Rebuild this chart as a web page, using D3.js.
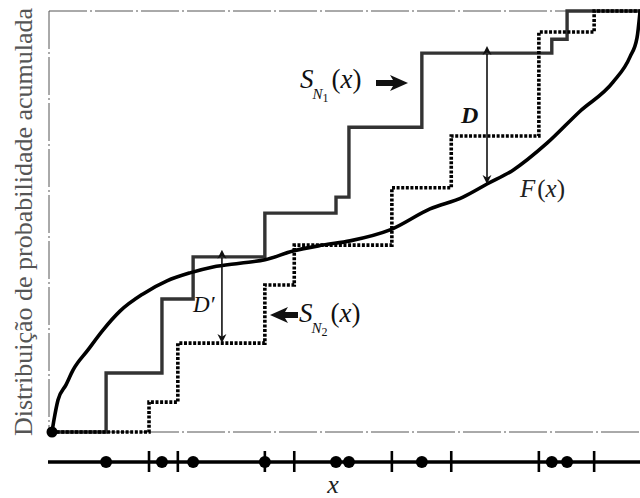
<!DOCTYPE html>
<html>
<head>
<meta charset="utf-8">
<script src="https://cdn.jsdelivr.net/npm/d3@7"></script>
<style>
  body { margin: 0; background: #fff; }
  svg { display: block; }
</style>
</head>
<body>
<script>
// Two samples (positions on the x axis, 0..100) and their empirical CDF levels
const sample1 = [9.2, 18.7, 24.0, 36.2, 48.3, 50.5, 62.9, 85.0, 87.6];
const ecdf1   = [0.140, 0.316, 0.416, 0.520, 0.558, 0.724, 0.900, 0.933, 1.0];
const sample2 = [16.5, 21.4, 36.2, 41.2, 57.8, 67.9, 82.8, 92.2];
const ecdf2   = [0.071, 0.211, 0.349, 0.444, 0.580, 0.703, 0.950, 1.0];

// Theoretical cumulative distribution F(x)
const cdfX = [0, 0.34, 1.02, 2.38, 3.57, 6.12, 8.67, 11.56, 15.48, 19.56, 23.47, 27.38,
              31.97, 36.22, 40.99, 46.09, 50.68, 57.48, 64.29, 69.90, 73.98, 78.40,
              84.18, 89.80, 95.41, 98.30, 99.49, 100];
const cdfY = [0, 0.029, 0.076, 0.112, 0.147, 0.195, 0.242, 0.287, 0.328, 0.359, 0.378, 0.392,
              0.401, 0.409, 0.430, 0.444, 0.454, 0.480, 0.530, 0.558, 0.589, 0.622,
              0.686, 0.762, 0.831, 0.891, 0.936, 0.998];

// Where the distances D and D' are measured
const dAt = 73.98;
const dPrimeAt = 28.9;

const W = 640, H = 498;
const svg = d3.select("body").append("svg").attr("width", W).attr("height", H);

const x = d3.scaleLinear().domain([0, 100]).range([52, 640]);
const y = d3.scaleLinear().domain([0, 1]).range([432, 11]);

const serif = "'Liberation Serif', 'DejaVu Serif', serif";

// empirical CDF value at a point
function ecdfAt(xs, levels, v) {
  let r = 0;
  xs.forEach((s, i) => { if (s <= v) r = levels[i]; });
  return r;
}
const cdfAt = v => {
  const i = d3.bisectRight(cdfX, v) - 1;
  if (i >= cdfX.length - 1) return cdfY[cdfY.length - 1];
  const t = (v - cdfX[i]) / (cdfX[i + 1] - cdfX[i]);
  return cdfY[i] + t * (cdfY[i + 1] - cdfY[i]);
};

// frame: thin dash-dot lines on top, left and bottom
const frame = svg.append("g")
  .attr("stroke", "#555").attr("stroke-width", 1).attr("fill", "none")
  .attr("stroke-dasharray", "38 3 2 3");
frame.append("line").attr("x1", 49).attr("x2", 640).attr("y1", y(1)).attr("y2", y(1));
frame.append("line").attr("x1", 49).attr("x2", 640).attr("y1", y(0)).attr("y2", y(0));
frame.append("line").attr("x1", 49).attr("x2", 49).attr("y1", y(1)).attr("y2", y(0));

// step functions
const step = d3.line().x(d => x(d[0])).y(d => y(d[1])).curve(d3.curveStepAfter);
const pts1 = [[0, 0]].concat(sample1.map((s, i) => [s, ecdf1[i]])).concat([[100, 1]]);
const pts2 = [[0, 0]].concat(sample2.map((s, i) => [s, ecdf2[i]])).concat([[100, 1]]);

svg.append("path").attr("d", step(pts1))
  .attr("fill", "none").attr("stroke", "#333").attr("stroke-width", 3.4)
  .attr("stroke-linejoin", "miter");

svg.append("path").attr("d", step(pts2))
  .attr("fill", "none").attr("stroke", "#000").attr("stroke-width", 3.6)
  .attr("stroke-dasharray", "3 1.6");

// theoretical curve
const curve = d3.line().x((d, i) => x(cdfX[i])).y((d, i) => y(cdfY[i])).curve(d3.curveMonotoneX);
svg.append("path").attr("d", curve(cdfX))
  .attr("fill", "none").attr("stroke", "#000").attr("stroke-width", 3.6)
  .attr("stroke-linecap", "round");
svg.append("circle").attr("cx", x(0)).attr("cy", y(0)).attr("r", 5.5).attr("fill", "#000");

// arrow heads for the distance markers
const defs = svg.append("defs");
["end", "start"].forEach(k => {
  defs.append("marker").attr("id", "head-" + k)
    .attr("viewBox", "0 0 10 10").attr("refX", k === "end" ? 9 : 1).attr("refY", 5)
    .attr("markerUnits", "userSpaceOnUse").attr("markerWidth", 9).attr("markerHeight", 10)
    .attr("orient", "auto-start-reverse")
    .append("path").attr("d", "M0,0 L10,5 L0,10 L3,5 Z").attr("fill", "#111");
});

function distance(xv, top, bottom) {
  svg.append("line")
    .attr("x1", x(xv)).attr("x2", x(xv))
    .attr("y1", y(top) + 1).attr("y2", y(bottom) - 1)
    .attr("stroke", "#111").attr("stroke-width", 1.6)
    .attr("marker-start", "url(#head-start)")
    .attr("marker-end", "url(#head-end)");
}
distance(dAt, ecdfAt(sample1, ecdf1, dAt), cdfAt(dAt));
distance(dPrimeAt, ecdfAt(sample1, ecdf1, dPrimeAt), ecdfAt(sample2, ecdf2, dPrimeAt));

// labels
svg.append("text").attr("x", 461).attr("y", 123)
  .attr("font-family", serif).attr("font-size", 24).attr("font-style", "italic")
  .attr("font-weight", "bold").attr("fill", "#111").text("D");
svg.append("text").attr("x", 193).attr("y", 312)
  .attr("font-family", serif).attr("font-size", 23).attr("font-style", "italic")
  .attr("fill", "#111").text("D\u2032");

function fLabel(px, py) {
  const t = svg.append("text").attr("x", px).attr("y", py)
    .attr("font-family", serif).attr("font-size", 25).attr("fill", "#222");
  t.append("tspan").attr("font-style", "italic").text("F");
  t.append("tspan").attr("dx", 2).text("(");
  t.append("tspan").attr("font-style", "italic").text("x");
  t.append("tspan").text(")");
}
fLabel(520, 197);

function sLabel(px, py, sub) {
  const t = svg.append("text").attr("x", px).attr("y", py)
    .attr("font-family", serif).attr("font-size", 27).attr("fill", "#111");
  t.append("tspan").attr("font-style", "italic").text("S");
  t.append("tspan").attr("font-style", "italic").attr("font-size", 15).attr("dy", 11).attr("dx", -1).text("N");
  t.append("tspan").attr("font-size", 12).attr("dy", 3).text(sub);
  t.append("tspan").attr("dy", -14).attr("dx", 3).text("(");
  t.append("tspan").attr("font-style", "italic").text("x");
  t.append("tspan").text(")");
}
sLabel(300, 88, "1");
sLabel(299, 322, "2");

// block arrows pointing at the step functions
function blockArrow(x0, x1, yc) {
  const dir = Math.sign(x1 - x0), headLen = 15, hw = 8, sw = 3;
  const xb = x1 - dir * headLen;
  const p = d3.path();
  p.moveTo(x0, yc - sw); p.lineTo(xb, yc - sw); p.lineTo(xb - dir * 3, yc - hw);
  p.lineTo(x1, yc); p.lineTo(xb - dir * 3, yc + hw); p.lineTo(xb, yc + sw);
  p.lineTo(x0, yc + sw); p.closePath();
  svg.append("path").attr("d", p.toString()).attr("fill", "#111");
}
blockArrow(376, 408, 83);
blockArrow(298, 270, 315);

// number line with the sample points
const axisY = 462;
svg.append("line").attr("x1", 48).attr("x2", 640).attr("y1", axisY).attr("y2", axisY)
  .attr("stroke", "#000").attr("stroke-width", 3.5);
svg.append("g").selectAll("circle").data(sample1).join("circle")
  .attr("cx", d => x(d)).attr("cy", axisY).attr("r", 6).attr("fill", "#000");
svg.append("g").selectAll("line").data(sample2).join("line")
  .attr("x1", d => x(d)).attr("x2", d => x(d))
  .attr("y1", axisY - 11).attr("y2", axisY + 10)
  .attr("stroke", "#000").attr("stroke-width", 2.6);

svg.append("text").attr("x", 333).attr("y", 493).attr("text-anchor", "middle")
  .attr("font-family", serif).attr("font-size", 26).attr("font-style", "italic")
  .attr("fill", "#222").text("x");

// y axis title
svg.append("text")
  .attr("transform", "translate(32,436) rotate(-90)")
  .attr("font-family", serif).attr("font-size", 26).attr("fill", "#555")
  .text("Distribuição de probabilidade acumulada");
</script>
</body>
</html>
